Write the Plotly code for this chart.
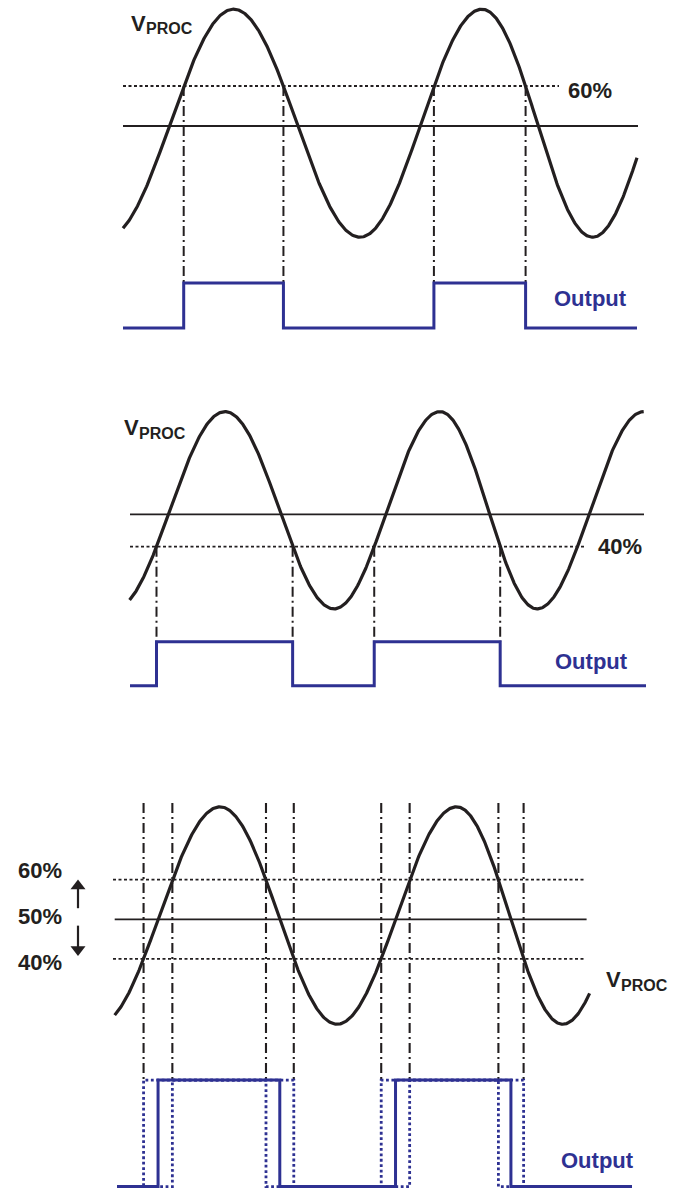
import numpy as np
import plotly.graph_objects as go

# ---------------- data (time in arbitrary units, signal in % of full scale) -------------
# Panel 1: threshold at 60 %
P1_EXT_T = [107.0, 233.6, 360.0, 482.0, 592.6, 703.0]   # times of troughs / peaks
P1_EXT_V = [22.2, 79.2, 22.2, 79.2, 22.2, 79.2]         # trough / peak values (%)
P1_SPAN = [123.0, 637.0]                                # visible part of V_PROC
P1_OUT_SPAN = [123.0, 637.0]
P1_THRESH = 60
P1_REF = 50

# Panel 2: threshold at 40 %
P2_EXT_T = [114.6, 225.0, 334.0, 440.0, 537.0, 643.7]
P2_EXT_V = [20.8, 81.7, 20.8, 81.7, 20.8, 81.7]
P2_SPAN = [129.6, 643.7]
P2_OUT_SPAN = [130.0, 646.0]
P2_THRESH = 40
P2_REF = 50

# Panel 3: thresholds 60 / 50 / 40 %
P3_EXT_T = [98.8, 220.0, 337.0, 456.7, 562.8, 671.8]
P3_EXT_V = [23.5, 78.4, 23.5, 78.4, 23.5, 78.4]
P3_SPAN = [114.7, 589.6]
P3_OUT_SPAN = [117.0, 632.0]
P3_THRESHOLDS = [60, 50, 40]
P3_LABELS = ["60%", "50%", "40%"]

N_EDGES = 4   # number of output transitions drawn in each panel

# ---------------- styles ----------------
BLACK = "#231f20"
BLUE = "#2e3192"
FONT = "Liberation Sans, Arial, sans-serif"
DASHDOT = "10px,4px,2px,4px"
DOTTED = "3px,2.5px"
BLUEDOT = "2.8px,2.6px"
FS = 22
FS_SUB = 16


def wave(t, kt, kv):
    t = np.asarray(t, dtype=float)
    out = np.full_like(t, np.nan)
    for i in range(len(kt) - 1):
        m = (t >= kt[i]) & (t <= kt[i + 1])
        f = (t[m] - kt[i]) / (kt[i + 1] - kt[i])
        out[m] = kv[i] + (kv[i + 1] - kv[i]) * (1 - np.cos(np.pi * f)) / 2
    return out


def crossings(kt, kv, thr, span):
    res = []
    for i in range(len(kt) - 1):
        a, b = kv[i], kv[i + 1]
        if min(a, b) <= thr <= max(a, b):
            f = np.arccos(1 - 2 * (thr - a) / (b - a)) / np.pi
            t = kt[i] + f * (kt[i + 1] - kt[i])
            if span[0] <= t <= span[1]:
                res.append(t)
    return res[:N_EDGES]


def square(edges, span, lo, hi):
    xs, ys = [span[0]], [lo]
    level = lo
    for e in edges:
        xs += [e, e]
        ys += [level, hi if level == lo else lo]
        level = hi if level == lo else lo
    xs.append(span[1])
    ys.append(level)
    return xs, ys


def vlines(edges, top, bottom):
    xs, ys = [], []
    for e in edges:
        xs += [e, e, None]
        ys += [top, bottom, None]
    return xs, ys


W, H = 678, 1190
# panel layout: (top px, bottom px, 50% line px, px per %)
PANELS = {
    1: dict(top=0, bot=340, c=126.0, s=4.0, out_lo=-0.5, out_hi=10.75),
    2: dict(top=390, bot=700, c=514.3, s=3.24, out_lo=-2.9, out_hi=10.7),
    3: dict(top=790, bot=1190, c=919.3, s=3.96, out_lo=-17.5, out_hi=9.4),
}

fig = go.Figure()


def add(panel, mode="lines", **kw):
    sfx = "" if panel == 1 else str(panel)
    fig.add_trace(go.Scatter(xaxis="x" + sfx, yaxis="y" + sfx, mode=mode,
                             hoverinfo="skip", showlegend=False, **kw))


# ---- Panel 1 ----
p = PANELS[1]
t = np.linspace(P1_SPAN[0], P1_SPAN[1], 700)
e1 = crossings(P1_EXT_T, P1_EXT_V, P1_THRESH, P1_SPAN)
add(1, x=[123, 638], y=[P1_REF, P1_REF], line=dict(color=BLACK, width=1.8))
add(1, x=[123, 559], y=[P1_THRESH, P1_THRESH], line=dict(color=BLACK, width=1.8, dash=DOTTED))
vx, vy = vlines(e1, P1_THRESH, p["out_hi"])
add(1, x=vx, y=vy, line=dict(color=BLACK, width=2.0, dash=DASHDOT))
add(1, x=t, y=wave(t, P1_EXT_T, P1_EXT_V), line=dict(color=BLACK, width=3.2))
sx, sy = square(e1, P1_OUT_SPAN, p["out_lo"], p["out_hi"])
add(1, x=sx, y=sy, line=dict(color=BLUE, width=3))

# ---- Panel 2 ----
p = PANELS[2]
t = np.linspace(P2_SPAN[0], P2_SPAN[1], 700)
e2 = crossings(P2_EXT_T, P2_EXT_V, P2_THRESH, P2_SPAN)
add(2, x=[130, 644], y=[P2_REF, P2_REF], line=dict(color=BLACK, width=1.8))
add(2, x=[130, 585], y=[P2_THRESH, P2_THRESH], line=dict(color=BLACK, width=1.8, dash=DOTTED))
vx, vy = vlines(e2, P2_THRESH, p["out_hi"])
add(2, x=vx, y=vy, line=dict(color=BLACK, width=2.0, dash=DASHDOT))
add(2, x=t, y=wave(t, P2_EXT_T, P2_EXT_V), line=dict(color=BLACK, width=3.2))
sx, sy = square(e2, P2_OUT_SPAN, p["out_lo"], p["out_hi"])
add(2, x=sx, y=sy, line=dict(color=BLUE, width=3))

# ---- Panel 3 ----
p = PANELS[3]
t = np.linspace(P3_SPAN[0], P3_SPAN[1], 700)
edges3 = {thr: crossings(P3_EXT_T, P3_EXT_V, thr, P3_SPAN) for thr in P3_THRESHOLDS}
for thr in P3_THRESHOLDS:
    if thr == 50:
        add(3, x=[114.7, 586.6], y=[thr, thr], line=dict(color=BLACK, width=1.8))
    else:
        add(3, x=[113, 584], y=[thr, thr], line=dict(color=BLACK, width=1.8, dash=DOTTED))
for thr in (40, 60):
    vx, vy = vlines(edges3[thr], 79.4, p["out_hi"])
    add(3, x=vx, y=vy, line=dict(color=BLACK, width=2.1, dash=DASHDOT))
add(3, x=t, y=wave(t, P3_EXT_T, P3_EXT_V), line=dict(color=BLACK, width=3.2))
for thr in (40, 60):
    sx, sy = square(edges3[thr], P3_OUT_SPAN, p["out_lo"], p["out_hi"])
    add(3, x=sx, y=sy, line=dict(color=BLUE, width=2.8, dash=BLUEDOT))
sx, sy = square(edges3[50], P3_OUT_SPAN, p["out_lo"], p["out_hi"])
add(3, x=sx, y=sy, line=dict(color=BLUE, width=3))

# arrows 50% -> 60% and 50% -> 40% (shaft + triangular head)
ARROW_X = 78
for tail, head, sym in ((52.8, 58.4, "triangle-up"), (48.4, 42.4, "triangle-down")):
    add(3, x=[ARROW_X, ARROW_X], y=[tail, head], line=dict(color=BLACK, width=2.2))
    add(3, mode="markers", x=[ARROW_X], y=[head],
        marker=dict(symbol=sym, size=13, color=BLACK, line=dict(width=0)))

# ---------------- axes ----------------
layout_axes = {}
for k, p in PANELS.items():
    sfx = "" if k == 1 else str(k)
    y0 = 50 - (p["bot"] - p["c"]) / p["s"]
    y1 = 50 + (p["c"] - p["top"]) / p["s"]
    layout_axes["xaxis" + sfx] = dict(domain=[0, 1], range=[0, W], visible=False,
                                      anchor="y" + sfx, fixedrange=True)
    layout_axes["yaxis" + sfx] = dict(domain=[1 - p["bot"] / H, 1 - p["top"] / H],
                                      range=[y0, y1], visible=False,
                                      anchor="x" + sfx, fixedrange=True)

# ---------------- annotations ----------------
ann = []


def label(panel, x, y, text, color=BLACK, size=FS, xanchor="center"):
    sfx = "" if panel == 1 else str(panel)
    ann.append(dict(xref="x" + sfx, yref="y" + sfx, x=x, y=y, text=text,
                    showarrow=False, xanchor=xanchor, yanchor="middle",
                    font=dict(family=FONT, size=size, color=color, weight="bold")))


def vproc(panel, x, y_v, y_sub):
    label(panel, x, y_v, "V", xanchor="left")
    label(panel, x + 15, y_sub, "PROC", size=FS_SUB, xanchor="left")


vproc(1, 129, 75.6, 74.4)
label(1, 590, 59, "60%")
label(1, 590, 7, "Output", color=BLUE)

vproc(2, 122, 76.8, 74.9)
label(2, 620, 40, "40%")
label(2, 591, 4.5, "Output", color=BLUE)

for thr, txt, yy in zip(P3_THRESHOLDS, P3_LABELS, [62.2, 50.6, 39.0]):
    label(3, 40, yy, txt)
vproc(3, 604, 34.7, 33.3)
label(3, 597, -10.8, "Output", color=BLUE)

fig.update_layout(width=W, height=H, margin=dict(l=0, r=0, t=0, b=0),
                  paper_bgcolor="white", plot_bgcolor="white",
                  annotations=ann, **layout_axes)

fig.write_html("out.html", config={"displayModeBar": False, "staticPlot": True},
               post_script="document.body.style.margin='0';document.body.style.padding='0';")
